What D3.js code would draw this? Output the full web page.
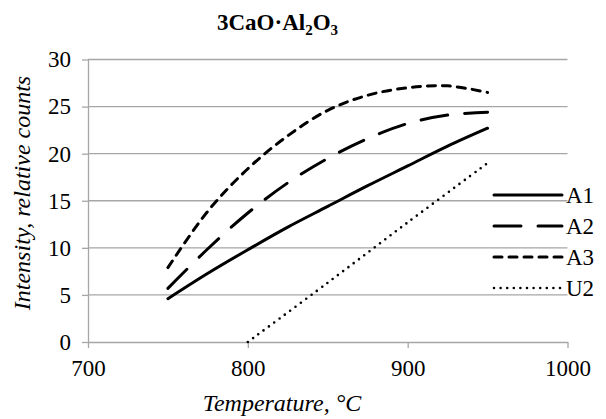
<!DOCTYPE html>
<html>
<head>
<meta charset="utf-8">
<script src="https://cdn.jsdelivr.net/npm/d3@7"></script>
<style>
  html, body { margin: 0; padding: 0; background: #fff; }
</style>
</head>
<body>
<svg id="chart" width="606" height="419" font-family="Liberation Serif"></svg>
<script>
// ---- data ----
const temps = [750, 775, 800, 825, 850, 875, 900, 925, 950];
const a1 = [4.6, 7.3, 9.8, 12.2, 14.4, 16.6, 18.7, 20.8, 22.7];
const a2 = [5.7, 9.9, 13.7, 16.9, 19.5, 21.6, 23.2, 24.1, 24.4];
const a3 = [7.9, 13.9, 18.4, 21.9, 24.6, 26.2, 27.0, 27.2, 26.5];
const u2Temps = [800, 850, 900, 950];
const u2 = [0, 6.3, 12.7, 19.0];
const seriesNames = ["A1", "A2", "A3", "U2"];
const xTicks = [700, 800, 900, 1000];
const yTicks = [0, 5, 10, 15, 20, 25, 30];
const titleMain = "3CaO·Al";
const xTitle = "Temperature, °C";
const yTitle = "Intensity, relative counts";

// ---- layout ----
const svg = d3.select("#chart");
const x = d3.scaleLinear().domain([700, 1000]).range([88, 567.5]);
const y = d3.scaleLinear().domain([0, 30]).range([342, 59.5]);
const gridColor = "#a6a6a6";

const styles = {
  A1: { w: 3, dash: null, cap: "round" },
  A2: { w: 3, dash: "27,17", cap: "round" },
  A3: { w: 3, dash: "8,7", cap: "round" },
  U2: { w: 2.6, dash: "0,6.6", cap: "round" }
};

// gridlines
svg.append("g").selectAll("line").data(yTicks.filter(d => d > 0)).join("line")
  .attr("x1", x(700)).attr("x2", x(1000))
  .attr("y1", d => y(d)).attr("y2", d => y(d))
  .attr("stroke", gridColor).attr("stroke-width", 1.3);

// x axis
const xAxis = svg.append("g").attr("transform", `translate(0,${y(0)})`)
  .call(d3.axisBottom(x).tickValues(xTicks).tickFormat(d3.format("d"))
    .tickSize(6).tickSizeOuter(0).tickPadding(12));
xAxis.attr("font-family", "Liberation Serif").attr("font-size", 23);
xAxis.select(".domain").attr("stroke", gridColor).attr("stroke-width", 1.3);
xAxis.selectAll(".tick line").attr("stroke", gridColor).attr("stroke-width", 1.3);
xAxis.selectAll(".tick text").attr("fill", "#000").attr("font-family", "Liberation Serif");

// y axis
const yAxis = svg.append("g").attr("transform", `translate(${x(700)},0)`)
  .call(d3.axisLeft(y).tickValues(yTicks).tickSize(6).tickSizeOuter(0).tickPadding(11));
yAxis.attr("font-family", "Liberation Serif").attr("font-size", 23);
yAxis.select(".domain").attr("stroke", gridColor).attr("stroke-width", 1.3);
yAxis.selectAll(".tick line").attr("stroke", gridColor).attr("stroke-width", 1.3);
yAxis.selectAll(".tick text").attr("fill", "#000").attr("font-family", "Liberation Serif");

// lines
const line = d3.line().x(d => x(d[0])).y(d => y(d[1])).curve(d3.curveCatmullRom.alpha(0.5));
const data = {
  A1: temps.map((t, i) => [t, a1[i]]),
  A2: temps.map((t, i) => [t, a2[i]]),
  A3: temps.map((t, i) => [t, a3[i]]),
  U2: u2Temps.map((t, i) => [t, u2[i]])
};
seriesNames.forEach(n => {
  const s = styles[n];
  svg.append("path").datum(data[n]).attr("d", line)
    .attr("fill", "none").attr("stroke", "#000")
    .attr("stroke-width", s.w).attr("stroke-linecap", s.cap)
    .attr("stroke-dasharray", s.dash);
});

// legend
const legY = [195, 226, 257, 288];
seriesNames.forEach((n, i) => {
  const s = styles[n];
  svg.append("line").attr("x1", 494).attr("x2", 562)
    .attr("y1", legY[i]).attr("y2", legY[i])
    .attr("stroke", "#000").attr("stroke-width", s.w)
    .attr("stroke-linecap", s.cap).attr("stroke-dasharray", s.dash);
  svg.append("text").attr("x", 566).attr("y", legY[i] + 8)
    .attr("font-family", "Liberation Serif").attr("font-size", 23).text(n);
});

// title
const title = svg.append("text").attr("x", 277.5).attr("y", 30)
  .attr("text-anchor", "middle")
  .attr("font-family", "Liberation Serif").attr("font-size", 23).attr("font-weight", "bold");
title.append("tspan").text(titleMain);
title.append("tspan").attr("font-size", 15).attr("dy", 5).text("2");
title.append("tspan").attr("dy", -5).text("O");
title.append("tspan").attr("font-size", 15).attr("dy", 5).text("3");

// axis titles
svg.append("text").attr("x", 282).attr("y", 411).attr("text-anchor", "middle")
  .attr("font-family", "Liberation Serif").attr("font-size", 24).attr("font-style", "italic").text(xTitle);
svg.append("text").attr("transform", "translate(30,193) rotate(-90)")
  .attr("text-anchor", "middle")
  .attr("font-family", "Liberation Serif").attr("font-size", 24).attr("font-style", "italic").text(yTitle);
</script>
</body>
</html>
